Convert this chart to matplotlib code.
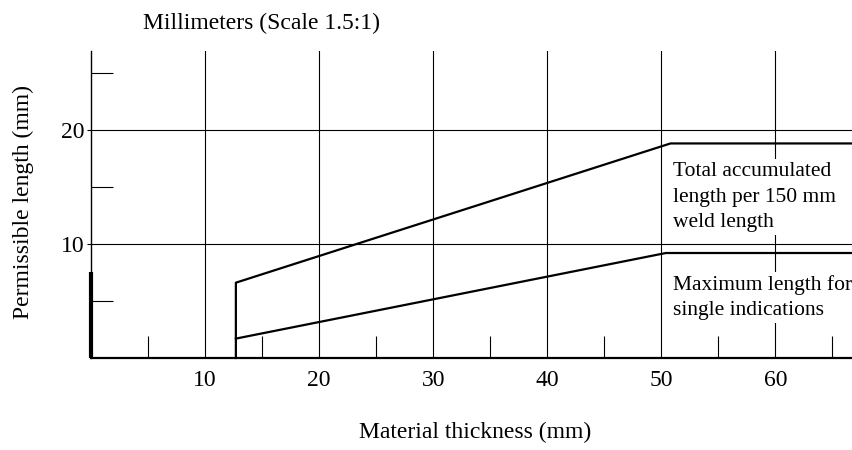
import matplotlib
matplotlib.use("Agg")
import matplotlib.pyplot as plt

plt.rcParams['font.family'] = ['Liberation Serif', 'DejaVu Serif']

# Data (mm)
upper_x = [12.7, 12.7, 50.8, 66.8]
upper_y = [0.0, 6.6, 18.8, 18.8]
lower_x = [12.7, 50.4, 66.8]
lower_y = [1.7, 9.2, 9.2]
left_bar_y = [0.0, 7.5]
major_x = [10, 20, 30, 40, 50, 60]
major_y = [10, 20]
minor_x = [5, 15, 25, 35, 45, 55, 65]
minor_y = [5, 15, 25]
xlim = (0, 66.8)
ylim = (0, 26.9)

fs = 17
fs_note = 15.5
fig = plt.figure(figsize=(8.53, 4.5), dpi=100)
ax = fig.add_axes([91/853, 1-358/450, 1-91/853, (358-51)/450])
ax.set_xlim(*xlim)
ax.set_ylim(*ylim)

for s in ['top', 'right']:
    ax.spines[s].set_visible(False)
ax.spines['left'].set_linewidth(1.0)
ax.spines['bottom'].set_linewidth(1.6)

# grid lines
for x in major_x:
    ax.axvline(x, color='black', lw=0.8, zorder=1)
for y in major_y:
    ax.axhline(y, color='black', lw=0.8, zorder=1)

ax.set_xticks(major_x)
ax.set_xticklabels([str(v) for v in major_x], fontsize=fs)
ax.set_yticks(major_y)
ax.set_yticklabels([str(v) for v in major_y], fontsize=fs)
ax.tick_params(axis='x', length=0, pad=9)
ax.tick_params(axis='y', length=3, width=0.8, pad=2)

# minor inward ticks
ax.set_xticks(minor_x, minor=True)
ax.set_yticks(minor_y, minor=True)
ax.tick_params(which='minor', direction='in', length=16, width=0.8)

# thick left bar
ax.plot([0, 0], left_bar_y, color='black', lw=3, solid_capstyle='butt', clip_on=False, zorder=4)

ax.plot(upper_x, upper_y, color='black', lw=1.6, zorder=3, clip_on=False)
ax.plot(lower_x, lower_y, color='black', lw=1.6, zorder=3, clip_on=False)

ax.text(51.0, 14.1, "Total accumulated\nlength per 150 mm\nweld length", fontsize=fs_note,
        ha='left', va='center', linespacing=1.45, zorder=5,
        bbox=dict(facecolor='white', edgecolor='none', pad=2))
ax.text(51.0, 5.3, "Maximum length for\nsingle indications", fontsize=fs_note,
        ha='left', va='center', linespacing=1.45, zorder=5,
        bbox=dict(facecolor='white', edgecolor='none', pad=2))

fig.text(475/853, 1-432/450, "Material thickness (mm)", fontsize=fs, ha='center', va='center')
fig.text(23/853, 1-202/450, "Permissible length (mm)", fontsize=fs, ha='center', va='center', rotation=90)
fig.text(143/853, 1-23/450, "Millimeters (Scale 1.5:1)", fontsize=fs, ha='left', va='center')

fig.savefig("out.png", dpi=100)
